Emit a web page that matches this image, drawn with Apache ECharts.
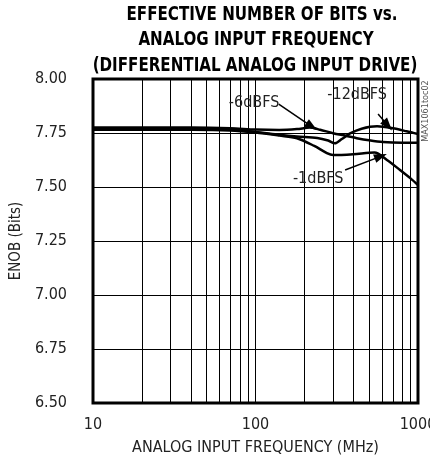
<!DOCTYPE html>
<html><head><meta charset="utf-8">
<script src="https://cdn.jsdelivr.net/npm/echarts@6/dist/echarts.min.js"></script>
<style>html,body{margin:0;padding:0;background:#fff}#c{width:430px;height:469px}</style>
</head><body><div id="c"></div>
<script>
const FONT = "'Liberation Sans Narrow', 'DejaVu Sans Condensed', sans-serif";

// Data
const yTicks = [6.50, 6.75, 7.00, 7.25, 7.50, 7.75, 8.00];
const xMajor = [10, 100, 1000];
const xMinorGrid = [20, 30, 40, 50, 60, 70, 80, 90, 200, 300, 400, 500, 600, 700, 800, 900];

const m6Freq = [10, 20, 40, 70, 100, 140, 180, 216, 250, 300, 360, 420, 500, 609, 800, 1000];
const m6Enob = [7.775, 7.775, 7.775, 7.772, 7.766, 7.764, 7.768, 7.775, 7.765, 7.749, 7.737, 7.726, 7.716, 7.708, 7.705, 7.705];

const m12Freq = [10, 20, 40, 70, 100, 140, 180, 240, 280, 308, 340, 382, 450, 560, 700, 850, 1000];
const m12Enob = [7.770, 7.770, 7.769, 7.765, 7.755, 7.742, 7.734, 7.727, 7.715, 7.702, 7.722, 7.748, 7.770, 7.781, 7.772, 7.758, 7.745];

const m1Freq = [10, 20, 40, 70, 100, 140, 180, 230, 275, 300, 400, 540, 644, 775, 900, 1000];
const m1Enob = [7.765, 7.765, 7.765, 7.762, 7.752, 7.738, 7.726, 7.690, 7.657, 7.648, 7.652, 7.660, 7.625, 7.579, 7.540, 7.509];

// annotation labels: [text, freq, enob]
const labels = [["-6dBFS", 98, 7.889], ["-12dBFS", 422, 7.926], ["-1dBFS", 243, 7.537]];
// arrows: [fromFreq, fromEnob, toFreq, toEnob]
const arrows = [[139, 7.884, 222, 7.780], [568, 7.838, 652, 7.785], [356, 7.579, 590, 7.642]];

const zip = (a, b) => a.map((v, i) => [v, b[i]]);
const lineSeries = (name, f, v) => ({
  name, type: 'line', data: zip(f, v), smooth: 0.3, symbol: 'none',
  lineStyle: { color: '#000', width: 2.5 }, z: 5, animation: false
});

const TSCALE = 0.84;
const chart = echarts.init(document.getElementById('c'), null, { renderer: 'canvas' });
chart.setOption({
  animation: false,
  backgroundColor: '#fff',
  grid: { left: 93, right: 12, top: 79, bottom: 66, show: true, borderColor: '#000', borderWidth: 3, z: 10,
          containLabel: false, outerBoundsMode: 'none' },
  xAxis: {
    type: 'log', logBase: 10, min: 10, max: 1000,
    axisLine: { show: false }, axisTick: { show: false },
    splitLine: { show: true, lineStyle: { color: '#000', width: 1 } },
    axisLabel: { color: '#222', fontFamily: FONT, fontSize: 16, margin: 14, formatter: v => String(Math.round(v)) },
    name: 'ANALOG INPUT FREQUENCY (MHz)', nameLocation: 'middle', nameGap: 37,
    nameTextStyle: { color: '#222', fontFamily: FONT, fontSize: 16 }
  },
  yAxis: {
    type: 'value', min: 6.5, max: 8, interval: 0.25,
    axisLine: { show: false }, axisTick: { show: false },
    splitLine: { show: true, lineStyle: { color: '#000', width: 1 } },
    axisLabel: { color: '#222', fontFamily: FONT, fontSize: 16, margin: 26, formatter: v => v.toFixed(2) },
    name: 'ENOB (Bits)', nameLocation: 'middle', nameGap: 68,
    nameTextStyle: { color: '#222', fontFamily: FONT, fontSize: 15 }
  },
  series: [
    {
      type: 'line', data: [], silent: true,
      markLine: {
        silent: true, symbol: 'none', animation: false,
        label: { show: false },
        lineStyle: { color: '#000', width: 1, type: 'solid' },
        data: xMinorGrid.map(x => ({ xAxis: x }))
      }
    },
    lineSeries('-6dBFS', m6Freq, m6Enob),
    lineSeries('-12dBFS', m12Freq, m12Enob),
    lineSeries('-1dBFS', m1Freq, m1Enob),
    {
      type: 'line', data: [], silent: true, z: 6,
      markLine: {
        silent: true, animation: false, symbol: ['none', 'triangle'], symbolSize: [9, 13],
        label: { show: false },
        lineStyle: { color: '#000', width: 1.5, type: 'solid' },
        data: arrows.map(a => [{ coord: [a[0], a[1]] }, { coord: [a[2], a[3]] }])
      },
      markPoint: {
        silent: true, animation: false, symbol: 'circle', symbolSize: 0,
        label: { show: true, position: 'inside', color: '#222', fontFamily: FONT, fontSize: 16, backgroundColor: 'transparent', formatter: p => p.name },
        data: labels.map(l => ({ name: l[0], coord: [l[1], l[2]] }))
      }
    }
  ],
  graphic: [
    { type: 'text', x: 262, y: 15, scaleX: TSCALE, style: { text: 'EFFECTIVE NUMBER OF BITS vs.', fontFamily: FONT, fontWeight: 'bold', fontSize: 20, fill: '#000', textAlign: 'center', textVerticalAlign: 'middle' } },
    { type: 'text', x: 256, y: 40, scaleX: TSCALE, style: { text: 'ANALOG INPUT FREQUENCY', fontFamily: FONT, fontWeight: 'bold', fontSize: 20, fill: '#000', textAlign: 'center', textVerticalAlign: 'middle' } },
    { type: 'text', x: 255, y: 66, scaleX: TSCALE, style: { text: '(DIFFERENTIAL ANALOG INPUT DRIVE)', fontFamily: FONT, fontWeight: 'bold', fontSize: 20, fill: '#000', textAlign: 'center', textVerticalAlign: 'middle' } },
    { type: 'text', x: 426, y: 111, rotation: Math.PI / 2, style: { text: 'MAX1061toc02', fontFamily: FONT, fontSize: 9, fill: '#555', textAlign: 'center', textVerticalAlign: 'middle' } }
  ]
});
</script></body></html>
